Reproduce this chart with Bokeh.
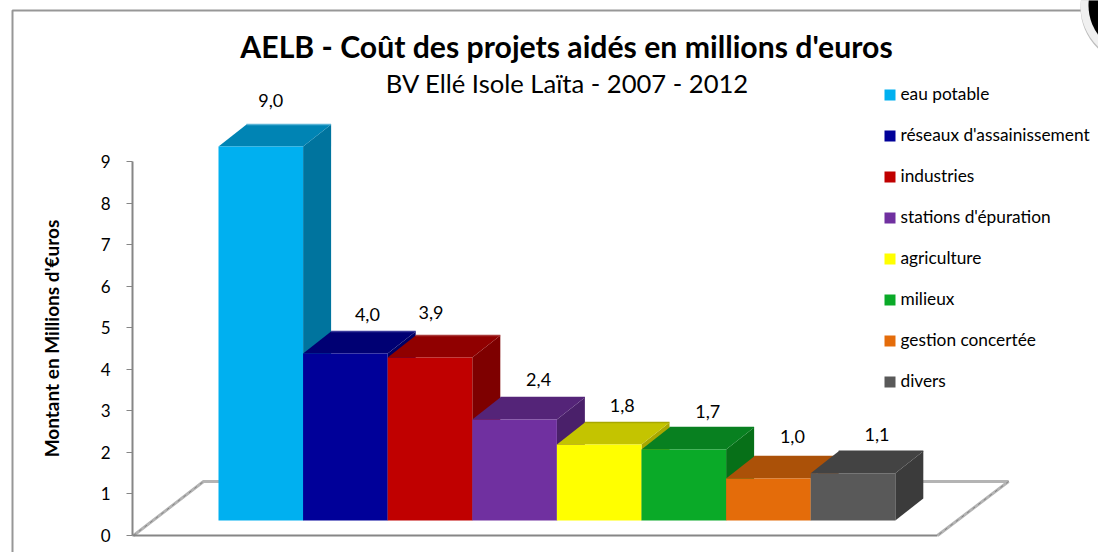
from bokeh.plotting import figure
from bokeh.models import LinearAxis, Range1d, FixedTicker
from bokeh.core.properties import value
from bokeh.embed import file_html
from bokeh.resources import INLINE

categories = ["eau potable", "réseaux d'assainissement", "industries", "stations d'épuration",
              "agriculture", "milieux", "gestion concertée", "divers"]
values = [9.0, 4.02, 3.92, 2.43, 1.83, 1.71, 1.01, 1.14]
value_labels = ["9,0", "4,0", "3,9", "2,4", "1,8", "1,7", "1,0", "1,1"]
front_colors = ["#00b0f0", "#000099", "#c00000", "#7030a0", "#ffff00", "#0aaa28", "#e46c0a", "#595959"]
top_colors = ["#0084b4", "#000073", "#900000", "#542478", "#c4c400", "#088020", "#ab5108", "#434343"]
side_colors = ["#00749e", "#000065", "#7e0000", "#4a206a", "#a8a800", "#077018", "#964707", "#3b3b3b"]
edge_colors = ["#5bb4d6", "#3a3a9a", "#a83a3a", "#542478", "#a8a800", "#088020", "#ab5108", "#434343"]
y_ticks = list(range(0, 10))
title_text = "AELB - Coût des projets aidés en millions d'euros"
subtitle_text = "BV Ellé Isole Laïta - 2007 - 2012"
y_label = "Montant en Millions d'€uros"

FONT = "Lato"
W, H = 1098, 552
PX = 41.55           # pixels per unit
Y0 = 535             # picture y of value 0
def vy(py):          # picture pixel -> data value
    return (Y0 - py) / PX

p = figure(width=W, height=H, output_backend="svg", toolbar_location=None,
           x_range=Range1d(0, W), y_range=Range1d(vy(H), vy(0)),
           min_border=0, outline_line_color=None, x_axis_type=None, y_axis_type=None)
p.grid.visible = False

# outer frame
p.line([12, 12, 1085], [vy(600), vy(10), vy(10)], line_color="#979797", line_width=2)

# floor
FL = "#b4b4b4"
p.line([133, 203, 220], [vy(535), vy(481), vy(481)], line_color=FL, line_width=3)
p.line([920, 1008, 937], [vy(481), vy(481), vy(535)], line_color=FL, line_width=3)
p.line([133, 203], [vy(535), vy(481)], line_color="#808080", line_width=1, line_dash="3 4")
p.line([1008, 937], [vy(481), vy(535)], line_color="#808080", line_width=1, line_dash="3 4")
p.line([132, 937], [0, 0], line_color="#868686", line_width=2)

# bars
BW = 84.6
X0 = 218.0
DX, DY = 28, 22 / PX
BASE = vy(520)
for i, v in enumerate(values):
    l, r = X0 + i * BW, X0 + (i + 1) * BW
    t = BASE + v
    p.patch([r, r + DX, r + DX, r], [BASE, BASE + DY, t + DY, t], fill_color=side_colors[i], line_color=None)
    p.patch([l, l + DX, r + DX, r], [t, t + DY, t + DY, t], fill_color=top_colors[i], line_color=None)
    p.line([l + DX, r + DX], [t + DY, t + DY], line_color=edge_colors[i], line_width=1.5)
    p.quad(left=l, right=r, bottom=BASE, top=t, fill_color=front_colors[i], line_color=None)

# data labels: horizontal and vertical shift from each bar's front centre / back edge
label_dx = [10, 22, 1, 24, 23, 24, 24, 24]
label_dy = [24, 17, 23, 18, 17, 16, 20, 17]
lx = [X0 + (i + .5) * BW + label_dx[i] for i in range(len(values))]
ly = [BASE + v + DY + label_dy[i] / PX for i, v in enumerate(values)]
p.text(lx, ly, text=value_labels, text_font=value(FONT), text_font_size="18px",
       text_align="center", text_baseline="middle", text_color="#000000")

# y axis
ax = LinearAxis(fixed_location=132, ticker=FixedTicker(ticks=y_ticks), bounds=(0, 9))
ax.axis_line_color = "#868686"; ax.axis_line_width = 2
ax.major_tick_line_color = "#868686"; ax.major_tick_line_width = 1
ax.major_tick_in = 0; ax.major_tick_out = 6; ax.minor_tick_line_color = None
ax.major_label_text_font = FONT; ax.major_label_text_font_size = "17px"
ax.major_label_text_color = "#000000"; ax.major_label_standoff = 16
p.add_layout(ax, "left")

# axis title, title, subtitle
p.text([51], [vy(338)], text=[y_label], text_font=value(FONT), text_font_size="19px", text_font_style="bold",
       angle=1.5708, text_align="center", text_baseline="middle", text_color="#000000")
p.text([566], [vy(45)], text=[title_text], text_font=value(FONT), text_font_size="30.2px", text_font_style="bold",
       text_align="center", text_baseline="middle", text_color="#000000")
p.text([567], [vy(82)], text=[subtitle_text], text_font=value(FONT), text_font_size="25.6px",
       text_align="center", text_baseline="middle", text_color="#000000")

# legend
leg_y = [vy(94.5 + i * 41) for i in range(len(categories))]
p.scatter([889.5] * len(categories), leg_y, marker="square", size=11, fill_color=front_colors, line_color=None)
p.text([900] * len(categories), [y + 1.5 / PX for y in leg_y], text=categories, text_font=value(FONT),
       text_font_size="17.3px", text_align="left", text_baseline="middle", text_color="#000000")

# corner disc
p.circle([1137], [vy(7)], radius=57, radius_units="screen", fill_color="#bdbdbd", line_color=None)
p.circle([1137], [vy(5)], radius=57, radius_units="screen", fill_color="#f0f0f0", line_color=None)
p.circle([1137], [vy(5)], radius=49, radius_units="screen", fill_color="#000000", line_color=None)

open("out.html", "w").write(file_html(p, INLINE))
